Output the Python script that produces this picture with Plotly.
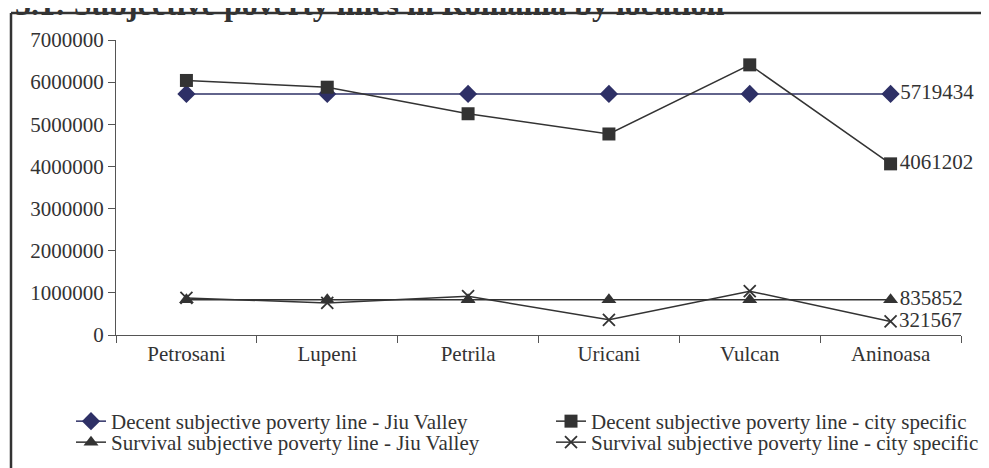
import plotly.graph_objects as go

locations = ["Petrosani", "Lupeni", "Petrila", "Uricani", "Vulcan", "Aninoasa"]
decent_jiu = [5719434, 5719434, 5719434, 5719434, 5719434, 5719434]
decent_city = [6040000, 5880000, 5250000, 4770000, 6410000, 4061202]
survival_jiu = [835852, 835852, 835852, 835852, 835852, 835852]
survival_city = [880000, 760000, 920000, 360000, 1040000, 321567]
y_ticks = [0, 1000000, 2000000, 3000000, 4000000, 5000000, 6000000, 7000000]

FONT = "Liberation Serif"
TXT = "#333333"
FS = 21

def last_label(vals):
    return [""] * (len(vals) - 1) + [str(vals[-1])]

fig = go.Figure()
fig.add_trace(go.Scatter(
    x=locations, y=decent_jiu, name="Decent subjective poverty line - Jiu Valley",
    mode="lines+markers+text", text=last_label(decent_jiu), textposition="middle right",
    line=dict(color="#2E3066", width=1.5), cliponaxis=False, legend="legend",
    marker=dict(symbol="diamond", size=14, color="#2E3066"),
    textfont=dict(family=FONT, size=FS, color=TXT)))
fig.add_trace(go.Scatter(
    x=locations, y=decent_city, name="Decent subjective poverty line - city specific",
    mode="lines+markers+text", text=last_label(decent_city), textposition="middle right",
    line=dict(color="#333333", width=1.5), cliponaxis=False, legend="legend2",
    marker=dict(symbol="square", size=13, color="#333333"),
    textfont=dict(family=FONT, size=FS, color=TXT)))
fig.add_trace(go.Scatter(
    x=locations, y=survival_jiu, name="Survival subjective poverty line - Jiu Valley",
    mode="lines+markers+text", text=last_label(survival_jiu), textposition="middle right",
    line=dict(color="#333333", width=1.5), cliponaxis=False, legend="legend3",
    marker=dict(symbol="triangle-up", size=13, color="#333333"),
    textfont=dict(family=FONT, size=FS, color=TXT)))
fig.add_trace(go.Scatter(
    x=locations, y=survival_city, name="Survival subjective poverty line - city specific",
    mode="lines+markers+text", text=last_label(survival_city), textposition="middle right",
    line=dict(color="#333333", width=1.5), cliponaxis=False, legend="legend4",
    marker=dict(symbol="x-thin", size=12, color="#333333", line=dict(color="#333333", width=1.8)),
    textfont=dict(family=FONT, size=FS, color=TXT)))

# page has an 8px body margin, so figure coords = image coords - 8
O = 8
W, H = 989 - O, 468 - O
L, R, T, B = 108, 28, 32, 133
pw, ph = W - L - R, H - T - B

def px(x):
    return (x - O - L) / pw

def py(y):
    return (H - B - (y - O)) / ph

leg_common = dict(orientation="v", yanchor="top", xanchor="left",
                  font=dict(family=FONT, size=FS, color=TXT), bgcolor="rgba(0,0,0,0)",
                  tracegroupgap=0, itemwidth=30)

fig.update_layout(
    width=W, height=H,
    margin=dict(l=L, r=R, t=T, b=B, autoexpand=False),
    paper_bgcolor="white", plot_bgcolor="white",
    font=dict(family=FONT, size=FS, color=TXT),
    showlegend=True,
    legend=dict(x=px(71), y=py(401), **leg_common),
    legend2=dict(x=px(551), y=py(401), **leg_common),
    legend3=dict(x=px(71), y=py(422), **leg_common),
    legend4=dict(x=px(551), y=py(422), **leg_common),
    xaxis=dict(type="category", range=[-0.5, 5.5], showgrid=False, zeroline=False,
               showline=True, linecolor="#555555", linewidth=1, automargin=False,
               ticks="outside", tickson="boundaries", ticklen=7, tickcolor="#555555",
               tickfont=dict(family=FONT, size=FS, color=TXT)),
    yaxis=dict(range=[0, 7000000], tickvals=y_ticks, ticktext=[str(v) for v in y_ticks],
               showgrid=False, zeroline=False, showline=True, linecolor="#555555", linewidth=1,
               ticks="outside", ticklen=7, tickcolor="#555555", automargin=False,
               tickfont=dict(family=FONT, size=FS, color=TXT)),
    shapes=[
        dict(type="line", xref="paper", yref="paper", x0=px(11), x1=px(995), y0=py(13), y1=py(13),
             line=dict(color="#333333", width=2.5)),
        dict(type="line", xref="paper", yref="paper", x0=px(11), x1=px(11), y0=py(13), y1=py(475),
             line=dict(color="#333333", width=2.5)),
    ],
    annotations=[
        dict(text="<b>Figure 5.1: Subjective poverty lines in Romania by location</b>",
             xref="paper", yref="paper", x=px(727), y=py(24), xanchor="right", yanchor="bottom",
             showarrow=False, font=dict(family=FONT, size=32, color=TXT)),
    ],
)

fig.write_html("out.html")
